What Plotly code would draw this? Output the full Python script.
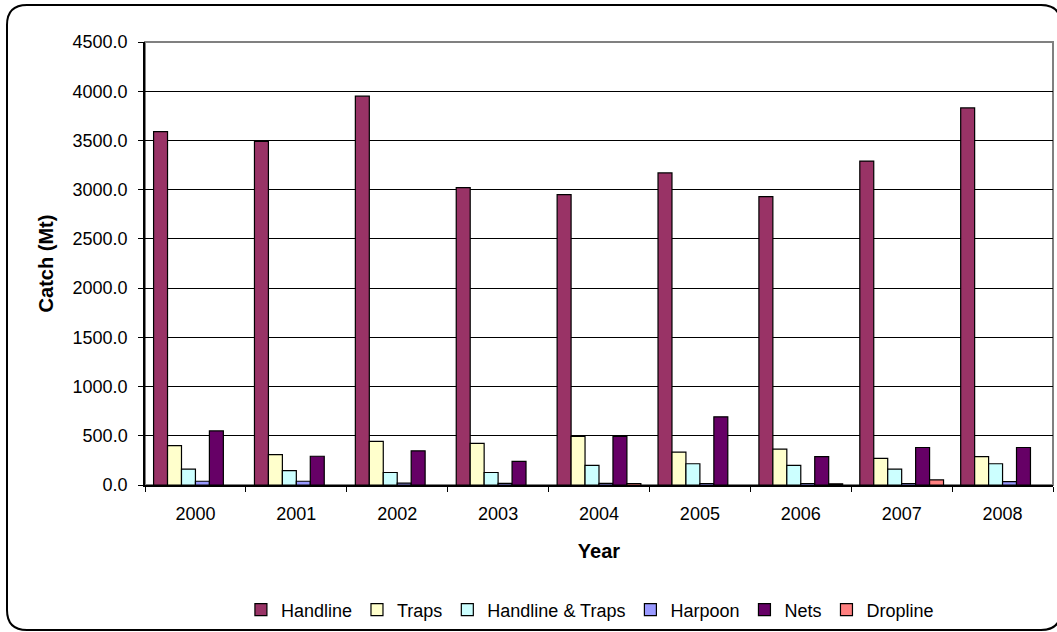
import plotly.graph_objects as go

years = ["2000", "2001", "2002", "2003", "2004", "2005", "2006", "2007", "2008"]
handline = [3590, 3490, 3950, 3020, 2950, 3170, 2930, 3290, 3830]
traps = [400, 309, 443, 422, 494, 333, 364, 271, 288]
handline_traps = [162, 147, 127, 127, 199, 216, 199, 162, 216]
harpoon = [38, 38, 20, 17, 17, 15, 15, 15, 34]
nets = [549, 292, 347, 240, 494, 693, 288, 381, 381]
dropline = [None, None, None, None, 15, None, 12, 52, None]

series = [
    ("Handline", handline, "#993366"),
    ("Traps", traps, "#FFFFCC"),
    ("Handline & Traps", handline_traps, "#CCFFFF"),
    ("Harpoon", harpoon, "#9999FF"),
    ("Nets", nets, "#660066"),
    ("Dropline", dropline, "#FF8080"),
]

W, H = 1057, 632
L, R, T, B = 145, 1053, 42, 485

fig = go.Figure()
for name, vals, col in series:
    fig.add_trace(go.Bar(x=years, y=vals, name=name,
                         marker=dict(color=col, line=dict(color="black", width=1.2))))

def px(x):
    return (x - L) / (R - L)

def py(y):
    return (B - y) / (B - T)

# outer rounded border
x0, x1, y0, y1, r = 7, 1061, 5, 630, 20
path = (f"M {px(x0+r)} {py(y0)} L {px(x1-r)} {py(y0)} "
        f"Q {px(x1)} {py(y0)} {px(x1)} {py(y0+r)} "
        f"L {px(x1)} {py(y1-r)} Q {px(x1)} {py(y1)} {px(x1-r)} {py(y1)} "
        f"L {px(x0+r)} {py(y1)} Q {px(x0)} {py(y1)} {px(x0)} {py(y1-r)} "
        f"L {px(x0)} {py(y0+r)} Q {px(x0)} {py(y0)} {px(x0+r)} {py(y0)} Z")
fig.add_shape(type="path", path=path, xref="paper", yref="paper",
              line=dict(color="black", width=2), layer="below")
# plot area border (gray top/right)
fig.add_shape(type="rect", x0=0, x1=1, y0=0, y1=1, xref="paper", yref="paper",
              line=dict(color="#808080", width=2), layer="below")

fig.update_layout(
    width=W, height=H,
    margin=dict(l=L, r=W - R, t=T, b=H - B, autoexpand=False),
    paper_bgcolor="white", plot_bgcolor="white",
    barmode="group", bargap=0.17, bargroupgap=0,
    font=dict(family="Liberation Sans, Arial", size=18, color="black"),
    showlegend=True,
    legend=dict(orientation="h", x=0.49, xanchor="center", y=py(610), yanchor="middle",
                font=dict(size=18), itemwidth=30, traceorder="normal"),
    xaxis=dict(
        title=dict(text="<b>Year</b>", font=dict(size=20), standoff=21),
        ticks="outside", ticklen=5, tickcolor="black", tickson="boundaries",
        ticklabelstandoff=12,
        showline=True, linecolor="black", linewidth=1.5,
        showgrid=False, tickfont=dict(size=18),
    ),
    yaxis=dict(
        title=dict(text="<b>Catch (Mt)</b>", font=dict(size=20), standoff=14),
        range=[0, 4500], dtick=500, tickformat=".1f",
        ticks="outside", ticklen=5, tickcolor="black",
        ticklabelstandoff=7,
        showline=True, linecolor="black", linewidth=1.5,
        showgrid=True, gridcolor="black", gridwidth=1,
        zeroline=False, tickfont=dict(size=18),
    ),
)

fig.write_html("out.html")
